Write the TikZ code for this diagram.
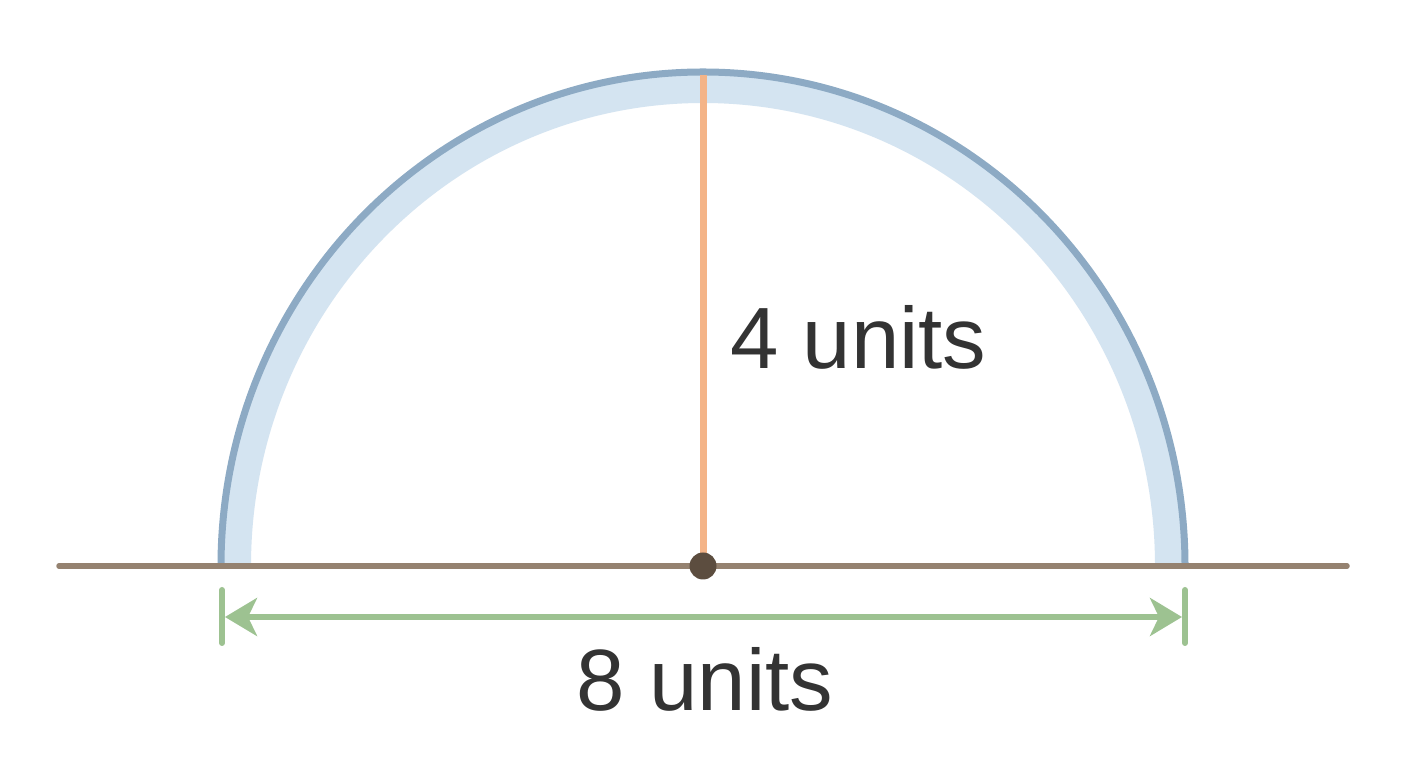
\documentclass[tikz,border=0pt]{standalone}
\usepackage{fontspec}
\setmainfont{Liberation Sans}
\usetikzlibrary{arrows.meta}
\definecolor{basec}{HTML}{958270}
\definecolor{rimc}{HTML}{8DAAC4}
\definecolor{bandc}{HTML}{D4E4F1}
\definecolor{radc}{HTML}{F4B488}
\definecolor{dotc}{HTML}{5C4D3F}
\definecolor{dimc}{HTML}{9DC291}
\definecolor{txtc}{HTML}{333333}
\tikzset{
  baseline/.style={basec, line width=5.5pt, line cap=round},
  rim/.style={rimc, line width=7pt},
  radius line/.style={radc, line width=7pt},
  dimline/.style={dimc, line width=6pt},
  dimbar/.style={dimc, line width=6pt, line cap=round},
  lbl/.style={txtc, font=\fontsize{87}{100}\selectfont, inner sep=0pt},
}
\begin{document}
\begin{tikzpicture}[x=1pt,y=1pt]
\useasboundingbox (0,0) rectangle (1408,768);
\fill[white] (0,0) rectangle (1408,768);
% coordinates
\coordinate (c) at (703,202);
\coordinate (bl) at (59,202);
\coordinate (br) at (1347,202);
\coordinate (top) at (703,693);
% band
\fill[bandc] (221,202) arc[start angle=180,end angle=0,x radius=482,y radius=494]
  -- (1155,202) arc[start angle=0,end angle=180,x radius=452,y radius=463] -- cycle;
\draw[rim] (221,202) arc[start angle=180,end angle=0,x radius=482,y radius=494];
% baseline
\draw[baseline] (bl) -- (br);
% radius
\draw[radius line] (c) -- (top);
\node[circle, fill=dotc, minimum size=27pt, inner sep=0pt] (dot) at (c) {};
% dimension
\coordinate (lt) at (222,178);
\coordinate (lb) at (222,125);
\coordinate (rt) at (1185,178);
\coordinate (rb) at (1185,125);
\coordinate (la) at (225,151);
\coordinate (ra) at (1182,151);
\draw[dimbar] (lt) -- (lb);
\draw[dimbar] (rt) -- (rb);
\draw[dimline, {Stealth[length=32pt,width=38pt,inset=9pt]}-{Stealth[length=32pt,width=38pt,inset=9pt]}] (la) -- (ra);
% labels
\node[lbl, anchor=base west] (h) at (730,399) {4 units};
\node[lbl, anchor=base] (w) at (705,57) {8 units};
\end{tikzpicture}
\end{document}
